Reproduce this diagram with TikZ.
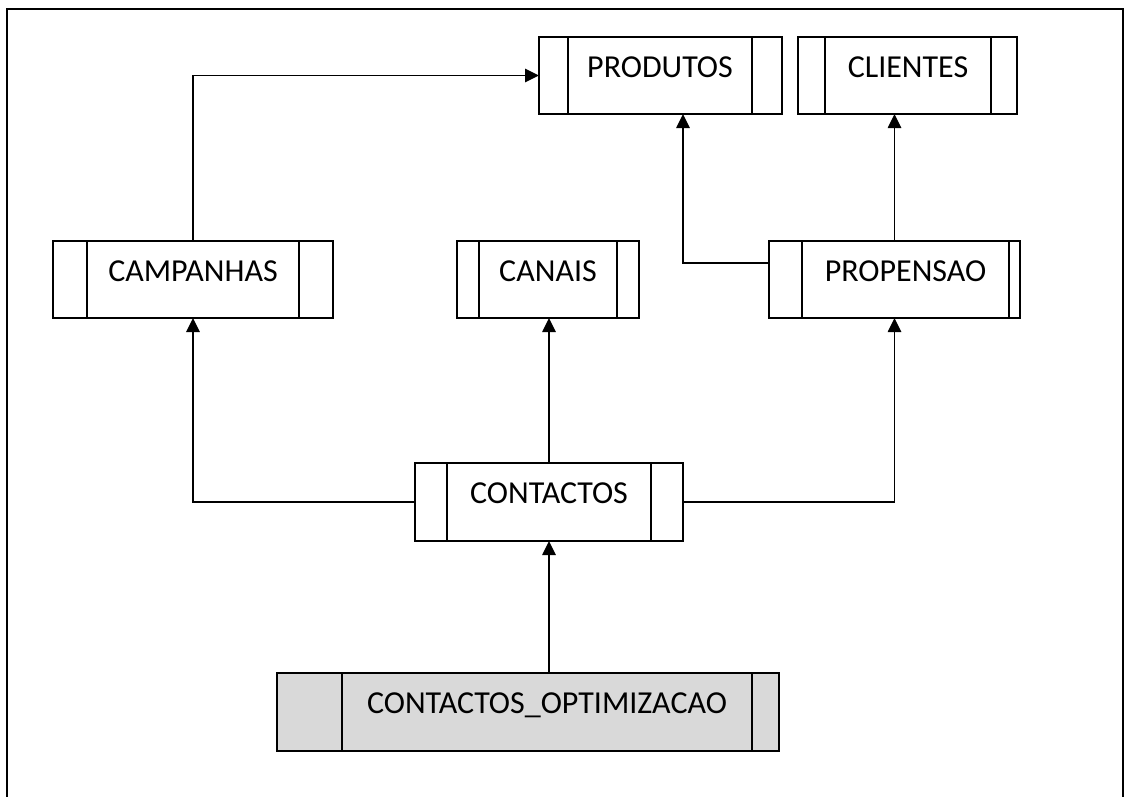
\documentclass[tikz,border=0pt]{standalone}
\usepackage{fontspec}
\setmainfont{Carlito}
\usetikzlibrary{arrows.meta,calc}
\definecolor{optgray}{HTML}{D9D9D9}
\newcommand\drawpbox[9]{%
 \node[boxline,fill=#9,minimum width={(#4-#2)*0.75pt},minimum height={(#5-#3)*0.75pt},inner sep=0pt,outer sep=0pt] (#1) at ({(#2+#4)/2},{(#3+#5)/2}) {};
 \draw[boxline] (#6,#3) -- (#6,#5) (#7,#3) -- (#7,#5);
 \node[lbl] (#1-t) at ({(#6+#7)/2},{#3+40}) {#8};}
\begin{document}
\begin{tikzpicture}[x=0.75pt,y=-0.75pt,
  boxline/.style={draw=black,line width=1.2pt},
  lbl/.style={font=\fontsize{24}{29}\selectfont,anchor=base,inner sep=0pt},
  arr/.style={draw=black,line width=1.2pt,-{Triangle[width=10pt,length=10.5pt]}}]
\useasboundingbox (0,0) rectangle (1131,796);
\draw[line width=1.6pt] (7,797) -- (7,9) -- (1123,9) -- (1123,797);

\drawpbox{produtos}{539}{37}{782}{114}{568}{752}{PRODUTOS}{white}
\drawpbox{clientes}{798}{37}{1017}{114}{825}{991}{CLIENTES}{white}
\drawpbox{campanhas}{53}{241}{333}{318}{87}{299}{CAMPANHAS}{white}
\drawpbox{canais}{457}{241}{639}{318}{479}{617}{CANAIS}{white}
\drawpbox{propensao}{769}{241}{1020}{318}{802}{1009}{PROPENSAO}{white}
\drawpbox{contactos}{415}{463}{683}{541}{447}{651}{CONTACTOS}{white}
\drawpbox{optim}{277}{673}{779}{751}{342}{752}{CONTACTOS\_OPTIMIZACAO}{optgray}

\coordinate (pw) at (769,263);
\coordinate (pb) at (683,114);

\draw[arr] (campanhas.north) |- (produtos.west);
\draw[arr] (pw) -| (pb);
\draw[arr] (propensao.north) -- (propensao.north |- clientes.south);
\draw[arr] (contactos.west) -| (campanhas.south);
\draw[arr] (contactos.north) -- (contactos.north |- canais.south);
\draw[arr] (contactos.east) -| (propensao.south);
\draw[arr] (optim.north -| contactos.south) -- (contactos.south);
\end{tikzpicture}
\end{document}
